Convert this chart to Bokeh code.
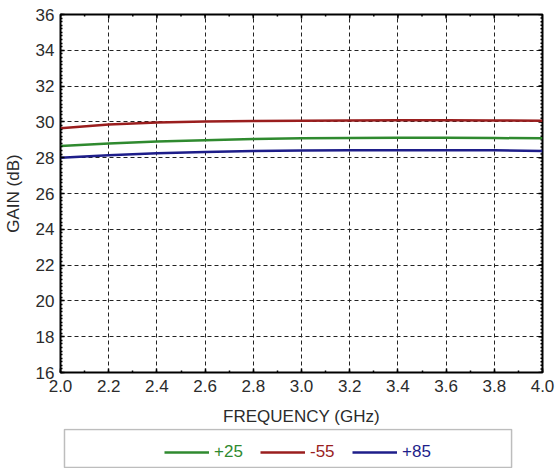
import numpy as np
from bokeh.plotting import figure
from bokeh.models import (FixedTicker, NumeralTickFormatter, Range1d,
                          Legend, LegendItem, BoxAnnotation)
from bokeh.layouts import column
from bokeh.embed import file_html
from bokeh.resources import INLINE

# ---- data ----
freq = [2.0, 2.2, 2.4, 2.6, 2.8, 3.0, 3.2, 3.4, 3.6, 3.8, 4.0]
gain_p25 = [28.65, 28.80, 28.90, 28.98, 29.04, 29.08, 29.10, 29.11, 29.11, 29.10, 29.08]
gain_m55 = [29.64, 29.86, 29.97, 30.02, 30.05, 30.07, 30.08, 30.09, 30.09, 30.08, 30.06]
gain_p85 = [28.00, 28.14, 28.25, 28.32, 28.37, 28.40, 28.41, 28.42, 28.42, 28.41, 28.37]
series_labels = ["+25", "-55", "+85"]
series_colors = ["#2f8a2f", "#9a1e1e", "#1e1e8a"]
x_ticks = [2.0, 2.2, 2.4, 2.6, 2.8, 3.0, 3.2, 3.4, 3.6, 3.8, 4.0]
y_ticks = [16, 18, 20, 22, 24, 26, 28, 30, 32, 34, 36]

FONT = "Liberation Sans"
TXT = "#2b2b2b"

x_minor = [float(v) for v in np.round(np.arange(x_ticks[0], x_ticks[-1] + 1e-6, 0.1), 3)]
y_minor = [float(v) for v in np.round(np.arange(y_ticks[0], y_ticks[-1] + 1e-6, 0.2), 3)]

x0, x1 = x_ticks[0], x_ticks[-1]
y0, y1 = y_ticks[0], y_ticks[-1]

BL, BR = 59, 14  # shared left/right borders (column aligns the frames)

p = figure(width=556, height=428, output_backend="svg", toolbar_location=None,
           x_range=Range1d(x0, x1), y_range=Range1d(y0, y1),
           min_border_left=BL, min_border_right=BR, min_border_top=14, min_border_bottom=51)
p.outline_line_color = "black"
p.outline_line_width = 2
p.background_fill_color = "white"
p.border_fill_color = "white"

xt = FixedTicker(ticks=x_ticks, minor_ticks=x_minor)
yt = FixedTicker(ticks=y_ticks, minor_ticks=y_minor)

for ax in (p.xaxis[0], p.yaxis[0]):
    ax.axis_line_color = None
    ax.major_tick_in = 4
    ax.major_tick_out = 0
    ax.minor_tick_in = 2
    ax.minor_tick_out = 0
    ax.major_tick_line_color = "black"
    ax.minor_tick_line_color = "black"
    ax.major_tick_line_width = 1.5
    ax.minor_tick_line_width = 1.5
    ax.major_label_text_font = FONT
    ax.major_label_text_font_size = "17px"
    ax.major_label_text_color = TXT
    ax.axis_label_text_font = FONT
    ax.axis_label_text_font_size = "17px"
    ax.axis_label_text_font_style = "normal"
    ax.axis_label_text_color = TXT

p.xaxis[0].ticker = xt
p.xaxis[0].formatter = NumeralTickFormatter(format="0.0")
p.xaxis[0].axis_label = "FREQUENCY (GHz)"
p.xaxis[0].major_label_standoff = 7
p.xaxis[0].axis_label_standoff = 12

p.yaxis[0].ticker = yt
p.yaxis[0].axis_label = "GAIN (dB)"
p.yaxis[0].major_label_standoff = 6
p.yaxis[0].axis_label_standoff = 10

for g, tk in ((p.xgrid[0], xt), (p.ygrid[0], yt)):
    g.ticker = tk
    g.grid_line_color = "#222222"
    g.grid_line_dash = "4 3"
    g.grid_line_width = 1
    g.grid_line_alpha = 1

# mirrored inside ticks on the top and right edges (half of each dash is clipped by the frame)
p.scatter([x1] * len(y_ticks), y_ticks, marker="dash", size=8, line_color="black", line_width=1.5)
p.scatter([x1] * len(y_minor), y_minor, marker="dash", size=4, line_color="black", line_width=1.5)
p.scatter(x_ticks, [y1] * len(x_ticks), marker="dash", angle=np.pi / 2, size=8,
          line_color="black", line_width=1.5)
p.scatter(x_minor, [y1] * len(x_minor), marker="dash", angle=np.pi / 2, size=4,
          line_color="black", line_width=1.5)

series = [gain_p25, gain_m55, gain_p85]
for vals, col in zip(series, series_colors):
    p.line(freq, vals, line_color=col, line_width=2.5)

# ---- legend panel ----
FW = 556 - BL - BR  # frame width in px
LH = 40
lf = figure(width=556, height=LH, output_backend="svg", toolbar_location=None,
            x_axis_type=None, y_axis_type=None,
            min_border_left=BL, min_border_right=BR, min_border_top=0, min_border_bottom=0,
            x_range=Range1d(0, FW), y_range=Range1d(0, LH))
lf.xgrid.visible = False
lf.ygrid.visible = False
lf.outline_line_color = None
lf.add_layout(BoxAnnotation(left=4, right=452, bottom=1, top=LH - 1, fill_alpha=0,
                            line_color="#bdbdbd", line_width=1.5, line_alpha=1))

x_pos = [104, 200, 292]
for lab, col, xp, vals in zip(series_labels, series_colors, x_pos, series):
    # hidden renderer: only its legend glyph is shown
    r = lf.line(freq, vals, line_color=col, line_width=2.5, visible=False)
    leg = Legend(items=[LegendItem(label=lab, renderers=[r])],
                 location=(xp, 6), padding=0, margin=0, spacing=0,
                 border_line_color=None, background_fill_alpha=0,
                 glyph_width=45, label_standoff=5,
                 label_text_font=FONT, label_text_font_size="17px",
                 label_text_color=col)
    lf.add_layout(leg)

layout = column(p, lf, spacing=0)
open("out.html", "w").write(file_html(layout, INLINE))
